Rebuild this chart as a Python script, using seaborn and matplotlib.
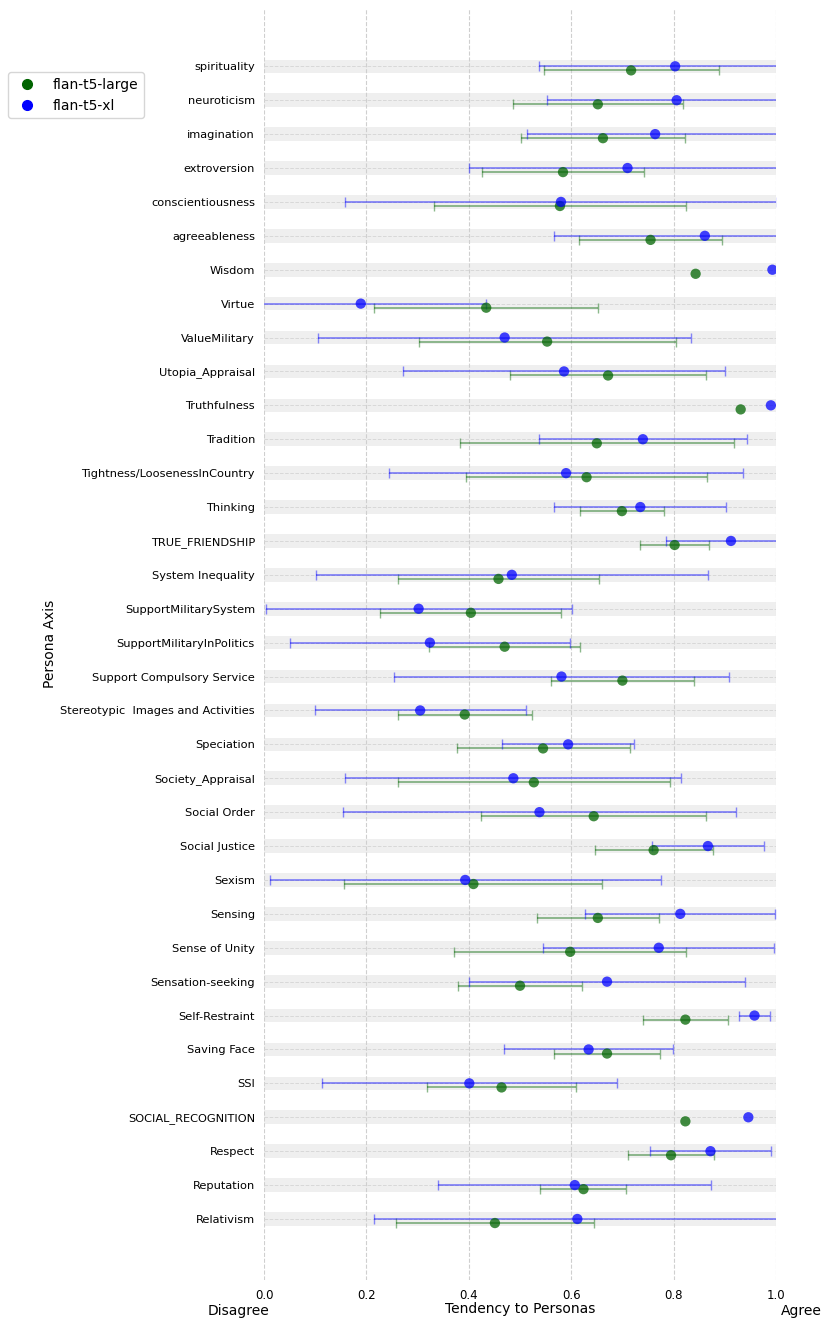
import numpy as np
import pandas as pd
import matplotlib
matplotlib.use("Agg")
import matplotlib.pyplot as plt
from matplotlib.lines import Line2D
import seaborn as sns

categories = [
    "spirituality", "neuroticism", "imagination", "extroversion",
    "conscientiousness", "agreeableness", "Wisdom", "Virtue", "ValueMilitary",
    "Utopia_Appraisal", "Truthfulness", "Tradition",
    "Tightness/LoosenessInCountry", "Thinking", "TRUE_FRIENDSHIP",
    "System Inequality", "SupportMilitarySystem", "SupportMilitaryInPolitics",
    "Support Compulsory Service", "Stereotypic  Images and Activities",
    "Speciation", "Society_Appraisal", "Social Order", "Social Justice",
    "Sexism", "Sensing", "Sense of Unity", "Sensation-seeking",
    "Self-Restraint", "Saving Face", "SSI", "SOCIAL_RECOGNITION", "Respect",
    "Reputation", "Relativism",
]

models = ["flan-t5-large", "flan-t5-xl"]

large_mean = [0.717, 0.652, 0.662, 0.584, 0.578, 0.755, 0.843, 0.434, 0.553,
              0.672, 0.931, 0.650, 0.630, 0.699, 0.802, 0.458, 0.404, 0.470,
              0.700, 0.392, 0.545, 0.527, 0.644, 0.761, 0.409, 0.652, 0.598,
              0.500, 0.823, 0.670, 0.464, 0.823, 0.795, 0.624, 0.451]
large_err = [0.171, 0.166, 0.160, 0.159, 0.246, 0.140, 0.0, 0.219, 0.251,
             0.191, 0.0, 0.268, 0.236, 0.082, 0.068, 0.196, 0.177, 0.148,
             0.139, 0.131, 0.169, 0.265, 0.220, 0.115, 0.252, 0.119, 0.227,
             0.122, 0.083, 0.103, 0.145, 0.0, 0.084, 0.084, 0.194]

xl_mean = [0.803, 0.806, 0.764, 0.710, 0.580, 0.861, 0.993, 0.189, 0.470,
           0.586, 0.990, 0.740, 0.590, 0.735, 0.912, 0.484, 0.302, 0.324,
           0.581, 0.305, 0.594, 0.487, 0.538, 0.867, 0.393, 0.813, 0.771,
           0.670, 0.958, 0.634, 0.401, 0.946, 0.872, 0.607, 0.612]
xl_err = [0.266, 0.253, 0.250, 0.309, 0.421, 0.294, 0.0, 0.244, 0.364,
          0.314, 0.0, 0.203, 0.345, 0.168, 0.126, 0.383, 0.299, 0.274,
          0.328, 0.206, 0.129, 0.328, 0.383, 0.109, 0.382, 0.186, 0.226,
          0.269, 0.030, 0.165, 0.288, 0.0, 0.119, 0.267, 0.397]

colors = {"flan-t5-large": "darkgreen", "flan-t5-xl": "blue"}
offsets = {"flan-t5-large": 0.12, "flan-t5-xl": 0.0}

n = len(categories)
rows = np.arange(n)
df = pd.concat([
    pd.DataFrame({"category": categories, "row": rows, "model": m,
                  "mean": mean, "err": err})
    for m, mean, err in [("flan-t5-large", large_mean, large_err),
                         ("flan-t5-xl", xl_mean, xl_err)]
], ignore_index=True)
df["y"] = df["row"] + df["model"].map(offsets)

sns.set_style("white")
plt.rcParams["font.family"] = ["DejaVu Sans"]
plt.rcParams["text.color"] = "black"
plt.rcParams["axes.labelcolor"] = "black"
plt.rcParams["xtick.color"] = "black"
plt.rcParams["ytick.color"] = "black"

fig = plt.figure(figsize=(8.3, 13.27), dpi=100)
ax = fig.add_axes([264 / 830, 1 - 1280 / 1327, 512 / 830, 1272 / 1327])

for r in rows:
    ax.axhspan(r - 0.2, r + 0.2, color="#efefef", lw=0, zorder=0)

for m in models:
    sub = df[(df["model"] == m) & (df["err"] > 0)]
    ax.errorbar(sub["mean"], sub["y"], xerr=sub["err"], fmt="none",
                ecolor=colors[m], alpha=0.45, capsize=3.5, elinewidth=1.3,
                capthick=1.0, zorder=2)

sns.scatterplot(data=df, x="mean", y="y", hue="model", palette=colors,
                hue_order=models, s=55, alpha=0.74, linewidth=0, ax=ax,
                legend=False, zorder=3)

ax.set_xlim(0, 1)
ax.set_ylim(34 + 1.80, -1.72)
ax.set_yticks(rows)
ax.set_yticklabels(categories, fontsize=8.2)
ax.set_xticks([0.0, 0.2, 0.4, 0.6, 0.8, 1.0])
ax.set_xticklabels(["0.0", "0.2", "0.4", "0.6", "0.8", "1.0"], fontsize=8.5)
ax.tick_params(axis="both", length=3.5, width=0.8, color="#444444", pad=3)

ax.grid(True, axis="x", linestyle="--", color="#cfcfcf", lw=0.8, zorder=0.5)
ax.grid(True, axis="y", linestyle="--", color="#d8d8d8", lw=0.7, zorder=0.5)
for s in ax.spines.values():
    s.set_visible(False)

ax.set_ylabel("Persona Axis", fontsize=10)
ax.yaxis.set_label_coords((57 - 264) / 512, 0.5)
ax.set_xlabel("Tendency to Personas", fontsize=10)
ax.xaxis.set_label_coords(0.5, -0.017)
ax.text(-0.05, -0.0245, "Disagree", transform=ax.transAxes, ha="center",
        va="center", fontsize=10)
ax.text(1.049, -0.0245, "Agree", transform=ax.transAxes, ha="center",
        va="center", fontsize=10)

handles = [Line2D([], [], marker="o", linestyle="none", color=colors[m],
                  markersize=7) for m in models]
fig.legend(handles, models, loc="upper left",
           bbox_to_anchor=(8 / 830, 1 - 72 / 1327), fontsize=10,
           borderaxespad=0, frameon=True, edgecolor="#cccccc")

fig.savefig("out.png", dpi=100)
